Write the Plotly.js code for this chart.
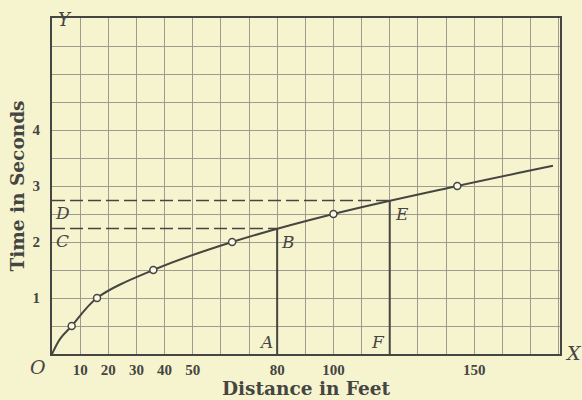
<!DOCTYPE html>
<html>
<head>
<meta charset="utf-8">
<script src="https://cdn.plot.ly/plotly-3.0.1.min.js"></script>
<style>html,body{margin:0;padding:0;background:#f6f4cf;}#chart{width:582px;height:400px;}</style>
</head>
<body>
<div id="chart"></div>
<script>
// Observed points (distance in feet, time in seconds)
const distance = [7, 16, 36, 64, 100, 144];
const time = [0.5, 1, 1.5, 2, 2.5, 3];
// Smooth curve
const curveDistance = [0, 3, 7, 16, 36, 64, 100, 144, 178];
const curveTime = [0, 0.28, 0.5, 1, 1.5, 2, 2.5, 3, 3.36];
// Construction points
const pointA = [80, 0], pointB = [80, 2.24];
const pointF = [120, 0], pointE = [120, 2.74];
const pointC = [0, 2.24], pointD = [0, 2.74];
// Tick labels
const xTicks = [10, 20, 30, 40, 50, 80, 100, 150];
const yTicks = [1, 2, 3, 4];

const ink = '#454542';
const gridC = '#9d9c8e';
const bg = '#f6f4cf';

const traces = [
  {x: curveDistance, y: curveTime, mode: 'lines', line: {color: ink, width: 2, shape: 'spline', smoothing: 1}, hoverinfo: 'skip'},
  {x: [pointC[0], pointB[0]], y: [pointC[1], pointB[1]], mode: 'lines', line: {color: ink, width: 1.5, dash: '13px,5px'}},
  {x: [pointD[0], pointE[0]], y: [pointD[1], pointE[1]], mode: 'lines', line: {color: ink, width: 1.5, dash: '13px,5px'}},
  {x: [pointA[0], pointB[0]], y: [pointA[1], pointB[1]], mode: 'lines', line: {color: ink, width: 2}},
  {x: [pointF[0], pointE[0]], y: [pointF[1], pointE[1]], mode: 'lines', line: {color: ink, width: 2}},
  {x: distance, y: time, mode: 'markers', marker: {symbol: 'circle', size: 7, color: '#fbfae6', line: {color: ink, width: 1.5}}}
];

const labFont = {family: 'DejaVu Serif, Liberation Serif, serif', size: 17, color: ink, style: 'italic'};
function lab(t, x, y, xs, ys, ref, size) {
  const f = Object.assign({}, labFont);
  if (size) f.size = size;
  return {text: '<i>' + t + '</i>', x: x, y: y, xref: ref ? ref[0] : 'x', yref: ref ? ref[1] : 'y',
    xanchor: 'center', yanchor: 'middle',
    showarrow: false, xshift: xs, yshift: ys, font: f};
}

const tickFont = {family: 'Liberation Serif, serif', size: 15, color: ink, weight: 'bold'};
const titleFont = {family: 'DejaVu Serif, serif', size: 18.5, color: ink};

const layout = {
  width: 582, height: 400,
  margin: {l: 52, r: 22, t: 18, b: 46},
  paper_bgcolor: bg, plot_bgcolor: bg,
  showlegend: false,
  font: {family: 'Liberation Serif, serif', color: ink},
  xaxis: {
    range: [0, 180.5], tickvals: xTicks, ticks: '', showgrid: true, gridcolor: gridC, gridwidth: 1,
    minor: {dtick: 10, tick0: 0, showgrid: true, gridcolor: gridC, gridwidth: 1},
    showline: true, mirror: true, linecolor: ink, linewidth: 2, zeroline: false,
    tickfont: tickFont, ticklabelstandoff: 1,
    title: {text: '<b>Distance in Feet</b>', font: titleFont, standoff: 2}
  },
  yaxis: {
    range: [0, 6], tickvals: yTicks, ticks: '', showgrid: true, gridcolor: gridC, gridwidth: 1,
    minor: {dtick: 0.5, tick0: 0, showgrid: true, gridcolor: gridC, gridwidth: 1},
    showline: true, mirror: true, linecolor: ink, linewidth: 2, zeroline: false,
    tickfont: tickFont, ticklabelstandoff: 7,
    title: {text: '<b>Time in Seconds</b>', font: titleFont, standoff: 3}
  },
  annotations: [
    lab('O', 0, 0, -14, -13, null, 19),
    lab('A', pointA[0], pointA[1], -11, 12),
    lab('F', pointF[0], pointF[1], -12, 12),
    lab('B', pointB[0], pointB[1], 11, -13),
    lab('E', pointE[0], pointE[1], 12, -13),
    lab('C', pointC[0], pointC[1], 10, -12),
    lab('D', pointD[0], pointD[1], 10, -12),
    lab('X', 1, 0, 13, 1, ['paper', 'paper'], 19),
    lab('Y', 0, 1, 13, -1, ['paper', 'paper'], 18)
  ]
};

Plotly.newPlot('chart', traces, layout, {displayModeBar: false, staticPlot: true});
</script>
</body>
</html>
